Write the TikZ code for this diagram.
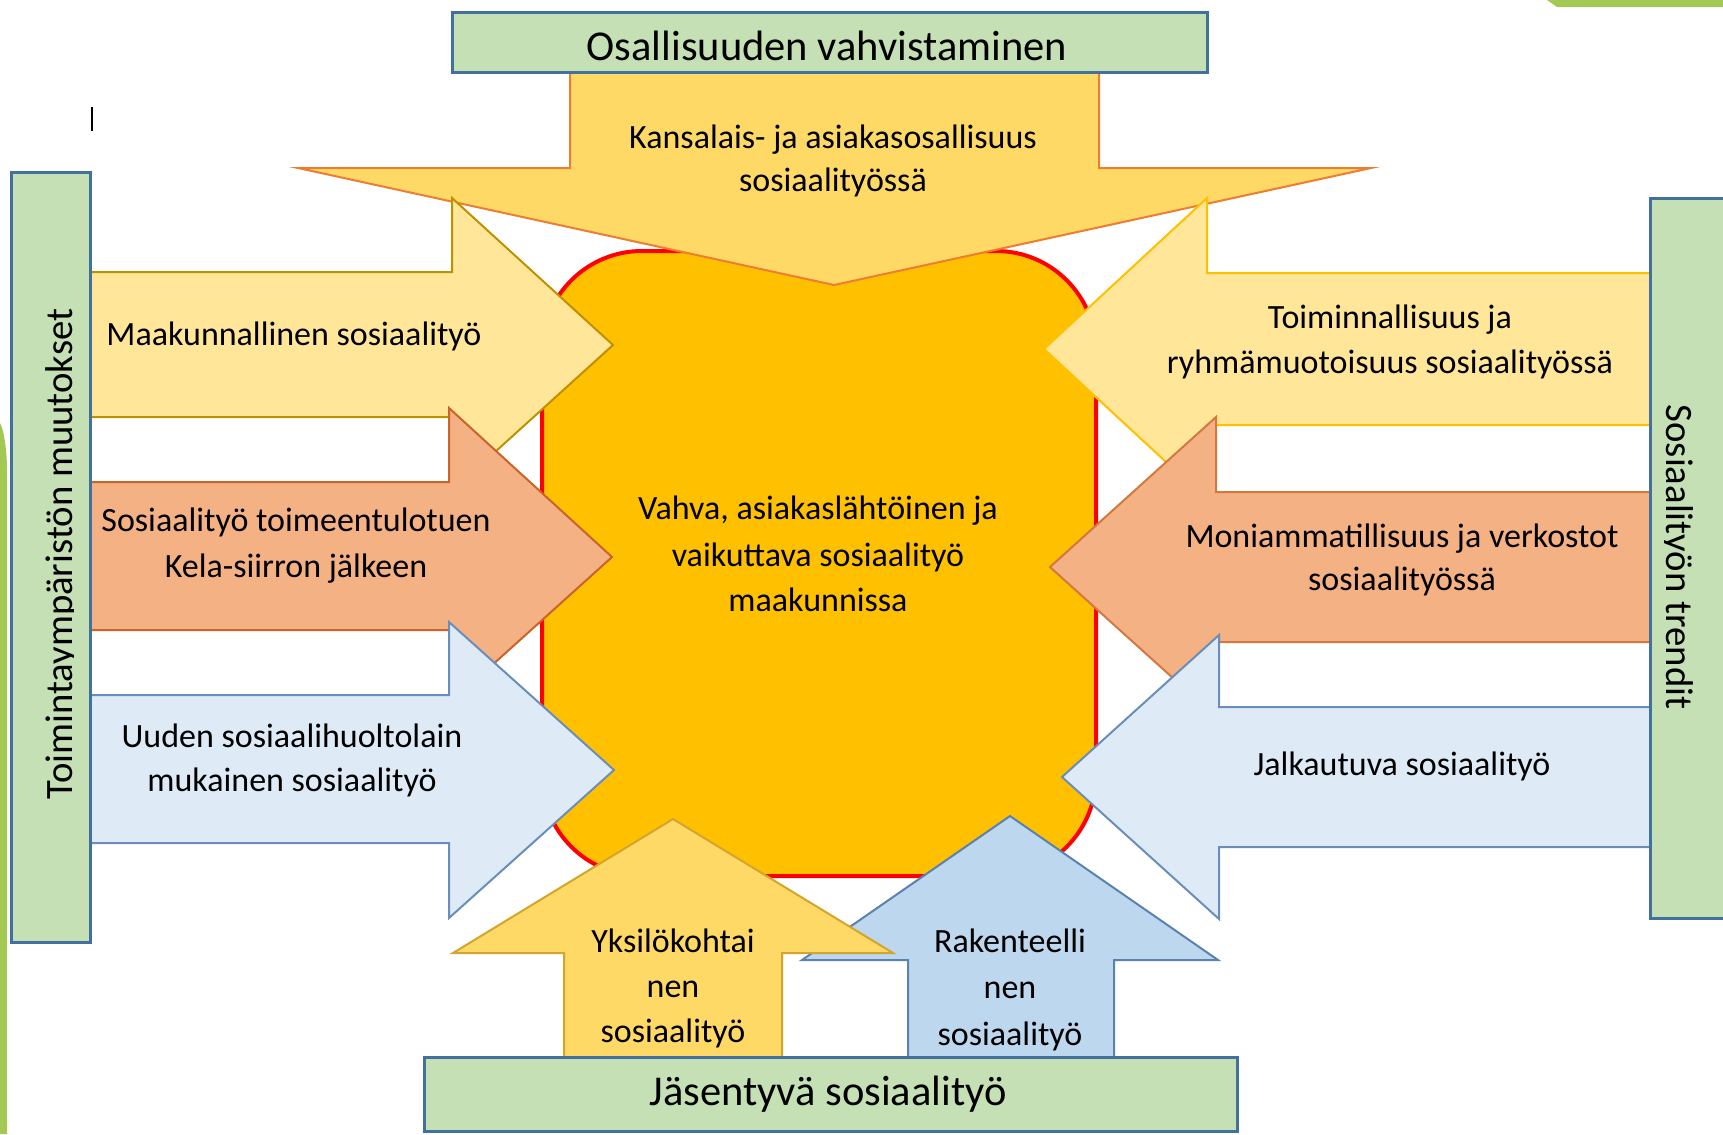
\documentclass[tikz,border=0pt]{standalone}
\usepackage{fontspec}
\setmainfont{Carlito}
\definecolor{gfill}{HTML}{C5E0B4}
\definecolor{gline}{HTML}{41719C}
\definecolor{topfill}{HTML}{FFD966}
\definecolor{topline}{HTML}{ED7D31}
\definecolor{lyfill}{HTML}{FFE699}
\definecolor{lyline}{HTML}{BF9000}
\definecolor{ryline}{HTML}{FFC000}
\definecolor{orfill}{HTML}{F4B183}
\definecolor{orlineL}{HTML}{C9642A}
\definecolor{orlineR}{HTML}{D3783E}
\definecolor{bfill}{HTML}{DEEBF7}
\definecolor{bline}{HTML}{6A8DBA}
\definecolor{bbfill}{HTML}{BDD7EE}
\definecolor{bbline}{HTML}{5B82AF}
\definecolor{byline}{HTML}{D4A52C}
\definecolor{corefill}{HTML}{FFC000}
\definecolor{coreline}{HTML}{FF0000}
\definecolor{leafgreen}{HTML}{A3C954}
\tikzset{
  greenbox/.style={draw=gline, fill=gfill, line width=1.2pt},
  arrowshape/.style={line width=0.8pt, line join=miter},
  corebox/.style={draw=coreline, fill=corefill, line width=1.6pt, rounded corners=40pt, inner sep=0pt},
  lbl/.style={font=\fontsize{13.6}{18}\selectfont, inner sep=0pt, anchor=base},
  biglbl/.style={font=\fontsize{17}{20}\selectfont, inner sep=0pt, anchor=base},
  rotlbl/.style={font=\fontsize{15.5}{18}\selectfont, inner sep=0pt, anchor=base}
}
\begin{document}
\begin{tikzpicture}[x=0.4pt,y=-0.4pt]
\useasboundingbox (0,0) rectangle (1723,1134);
% background decorations
\fill[leafgreen] (0,423) .. controls (4,430) and (7,450) .. (7,471) -- (7,1134) -- (0,1134) -- cycle;
\fill[leafgreen] (1547,0) -- (1723,0) -- (1723,7) -- (1557,7) -- cycle;
\draw[line width=1.1pt] (92,107) -- (92,131);
% central box
\node[corebox, minimum width=221.6pt, minimum height=250pt] (core) at (819,563.5) {};
% top arrow
\filldraw[arrowshape, fill=topfill, draw=topline] (570,72) -- (1099,72) -- (1099,168) -- (1371,168) -- (834,285) -- (298,168) -- (570,168) -- cycle;
% left arrows
\filldraw[arrowshape, fill=lyfill, draw=lyline] (90,272) -- (452,272) -- (452,198) -- (613,345) -- (452,491) -- (452,417) -- (90,417) -- cycle;
\filldraw[arrowshape, fill=orfill, draw=orlineL] (90,482) -- (449,482) -- (449,408) -- (612,557) -- (449,704) -- (449,630) -- (90,630) -- cycle;
\filldraw[arrowshape, fill=bfill, draw=bline] (90,695) -- (449,695) -- (449,622) -- (614,770) -- (449,918) -- (449,843) -- (90,843) -- cycle;
% right arrows
\filldraw[arrowshape, fill=lyfill, draw=ryline] (1650,273) -- (1207,273) -- (1207,198) -- (1044,349) -- (1207,500) -- (1207,425) -- (1650,425) -- cycle;
\filldraw[arrowshape, fill=orfill, draw=orlineR] (1650,492) -- (1216,492) -- (1216,417) -- (1050,567) -- (1216,717) -- (1216,642) -- (1650,642) -- cycle;
\filldraw[arrowshape, fill=bfill, draw=bline] (1650,707) -- (1219,707) -- (1219,635) -- (1062,777) -- (1219,919) -- (1219,847) -- (1650,847) -- cycle;
% bottom arrows
\filldraw[arrowshape, fill=bbfill, draw=bbline] (908,1057) -- (908,960) -- (802,960) -- (1010,816) -- (1218,960) -- (1114,960) -- (1114,1057) -- cycle;
\filldraw[arrowshape, fill=topfill, draw=byline] (564,1057) -- (564,953) -- (453,953) -- (673,819) -- (893,953) -- (782,953) -- (782,1057) -- cycle;
% green boxes
\draw[greenbox] (452,12) rectangle (1207,72);
\draw[greenbox] (11,172) rectangle (90,942);
\draw[greenbox] (1650,198) rectangle (1740,918);
\draw[greenbox] (424,1057) rectangle (1237,1131);
% texts
\node[biglbl] (osa) at (827,60) {Osallisuuden vahvistaminen};
\node[biglbl] (jas) at (828,1105) {Jäsentyvä sosiaalityö};
\begin{scope}
\clip (11,172) rectangle (73.5,942);
\node[rotlbl, rotate=90] (toim) at (72,554) {Toimintaympäristön muutokset};
\end{scope}
\begin{scope}
\clip (1664.5,198) rectangle (1723,918);
\node[rotlbl, rotate=-90] (trend) at (1666,557) {Sosiaalityön trendit};
\end{scope}
\node[lbl] (ka1) at (833,148) {Kansalais- ja asiakasosallisuus};
\node[lbl] (ka2) at (833,191) {sosiaalityössä};
\node[lbl] (maa) at (294,345) {Maakunnallinen sosiaalityö};
\node[lbl] (kel1) at (296,531) {Sosiaalityö toimeentulotuen};
\node[lbl] (kel2) at (296,577) {Kela-siirron jälkeen};
\node[lbl] (uud1) at (292,747) {Uuden sosiaalihuoltolain};
\node[lbl] (uud2) at (292,791) {mukainen sosiaalityö};
\node[lbl] (toi1) at (1390,328) {Toiminnallisuus ja};
\node[lbl] (toi2) at (1390,373) {ryhmämuotoisuus sosiaalityössä};
\node[lbl] (mon1) at (1402,547) {Moniammatillisuus ja verkostot};
\node[lbl] (mon2) at (1402,590) {sosiaalityössä};
\node[lbl] (jal) at (1402,775) {Jalkautuva sosiaalityö};
\node[lbl] (vah1) at (818,519) {Vahva, asiakaslähtöinen ja};
\node[lbl] (vah2) at (818,566) {vaikuttava sosiaalityö};
\node[lbl] (vah3) at (818,611) {maakunnissa};
\node[lbl] (yks1) at (673,952) {Yksilökohtai};
\node[lbl] (yks2) at (673,997) {nen};
\node[lbl] (yks3) at (673,1042) {sosiaalityö};
\node[lbl] (rak1) at (1010,952) {Rakenteelli};
\node[lbl] (rak2) at (1010,998) {nen};
\node[lbl] (rak3) at (1010,1045) {sosiaalityö};
\end{tikzpicture}
\end{document}
